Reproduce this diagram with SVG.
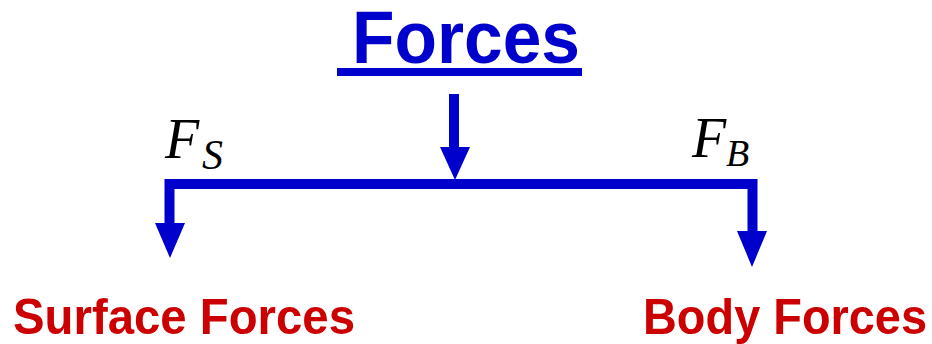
<svg xmlns="http://www.w3.org/2000/svg" width="932" height="344" viewBox="0 0 932 344">
<style>
.title{font-family:"Liberation Sans",Arial,sans-serif;font-weight:bold;font-size:74px;fill:#0000CC}
.lbl{font-family:"Liberation Sans",Arial,sans-serif;font-weight:bold;font-size:50px;fill:#CC0000}
.math{font-family:"Liberation Serif","Times New Roman",serif;font-style:italic;fill:#000}
.ln{stroke:#0000CC;stroke-width:10;fill:none}
.hd{fill:#0000CC}
</style>
<rect width="932" height="344" fill="#fff"/>
<g id="forces">
<text class="title" x="352" y="63" textLength="228" lengthAdjust="spacingAndGlyphs">Forces</text>
<rect x="337" y="68" width="245" height="8" fill="#0000CC"/>
</g>
<g id="connectors">
<line class="ln" x1="454" y1="94" x2="454" y2="150"/>
<polygon class="hd" points="440,147 470,147 455,180"/>
<polyline class="ln" points="169.5,224 169.5,184 752.5,184 752.5,232"/>
<polygon class="hd" points="155,223 185,223 170,258"/>
<polygon class="hd" points="737,231 767,231 752,267"/>
</g>
<g id="fs">
<text class="math" x="165" y="158" font-size="56">F</text>
<text class="math" x="202" y="169" font-size="42">S</text>
</g>
<g id="fb">
<text class="math" x="692" y="157" font-size="56">F</text>
<text class="math" x="726" y="166" font-size="38">B</text>
</g>
<g id="surface">
<text class="lbl" x="13" y="334" textLength="342" lengthAdjust="spacingAndGlyphs">Surface Forces</text>
</g>
<g id="body">
<text class="lbl" x="643" y="334" textLength="284" lengthAdjust="spacingAndGlyphs">Body Forces</text>
</g>
</svg>
